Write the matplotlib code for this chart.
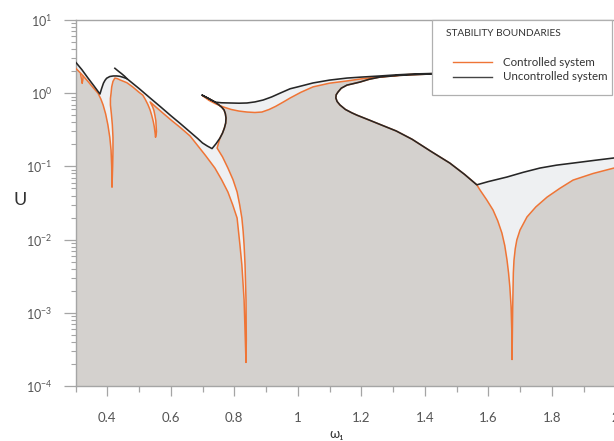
import numpy as np
import matplotlib
matplotlib.use("Agg")
import matplotlib.pyplot as plt
from matplotlib.ticker import MultipleLocator, FuncFormatter, LogLocator
from matplotlib.patches import Rectangle
from matplotlib.lines import Line2D

plt.rcParams['font.family'] = ['Lato', 'DejaVu Sans']
plt.rcParams['mathtext.fontset'] = 'custom'
plt.rcParams['mathtext.rm'] = 'Lato'

# ---- uncontrolled boundary (black) pieces ----
unc_left_w = [0.300, 0.320, 0.338, 0.358, 0.377, 0.382, 0.388, 0.393, 0.398, 0.408,
              0.419, 0.430, 0.440, 0.450, 0.462, 0.500, 0.535, 0.570, 0.601, 0.630,
              0.661, 0.685, 0.700, 0.715, 0.730, 0.743]
unc_left_u = [2.67, 2.10, 1.64, 1.26, 0.975, 1.15, 1.37, 1.50, 1.60, 1.69,
              1.72, 1.72, 1.70, 1.65, 1.58, 1.16, 0.86, 0.64, 0.49, 0.385,
              0.295, 0.240, 0.209, 0.190, 0.175, 0.205]
unc_spur_w = [0.698, 0.718, 0.740]
unc_spur_u = [0.945, 0.850, 0.755]
unc_top_w = [0.760, 0.787, 0.815, 0.840, 0.865, 0.891, 0.918, 0.944, 0.976, 1.000,
             1.048, 1.100, 1.155, 1.200, 1.259, 1.310, 1.363, 1.423, 1.470]
unc_top_u = [0.740, 0.735, 0.730, 0.735, 0.760, 0.807, 0.89, 1.00, 1.15, 1.22,
             1.38, 1.51, 1.61, 1.66, 1.72, 1.78, 1.83, 1.86, 1.88]
unc_right_w = [1.600, 1.659, 1.710, 1.763, 1.815, 1.867, 1.935, 2.000]
unc_right_u = [0.062, 0.0716, 0.083, 0.095, 0.104, 0.111, 0.121, 0.131]

# short extra fold of the uncontrolled boundary near 0.43
unc_fold_w = [0.424, 0.435, 0.445, 0.455, 0.462]
unc_fold_u = [2.19, 2.00, 1.85, 1.70, 1.58]

# ---- pieces shared by both boundaries ----
fold1_w = [0.755, 0.763, 0.769, 0.773, 0.774, 0.772, 0.768, 0.761, 0.752, 0.745,
           0.739, 0.718]
fold1_u = [0.244, 0.285, 0.335, 0.39, 0.458, 0.525, 0.589, 0.640, 0.690, 0.725,
           0.758, 0.852]
fold2_w = [1.455, 1.420, 1.380, 1.320, 1.259, 1.225, 1.196, 1.175, 1.155, 1.137,
           1.127, 1.121, 1.120, 1.124, 1.133, 1.150, 1.170, 1.187, 1.225, 1.262,
           1.310, 1.360, 1.420, 1.479, 1.525, 1.564]
fold2_u = [1.86, 1.83, 1.80, 1.75, 1.66, 1.55, 1.42, 1.35, 1.29, 1.17,
           1.04, 0.95, 0.86, 0.77, 0.69, 0.60, 0.54, 0.50, 0.43, 0.37,
           0.305, 0.235, 0.160, 0.111, 0.078, 0.056]

# ---- controlled boundary (orange) pieces ----
ctl_left_w = [0.300, 0.320, 0.338, 0.355, 0.371, 0.380, 0.387, 0.395, 0.402, 0.408,
              0.412, 0.414, 0.415, 0.417, 0.418, 0.418, 0.416, 0.413, 0.410, 0.410,
              0.412, 0.414, 0.418, 0.424, 0.432, 0.440, 0.462, 0.480, 0.500, 0.512,
              0.520, 0.528, 0.535, 0.540, 0.545, 0.548, 0.551, 0.552, 0.554, 0.555,
              0.554, 0.553, 0.550, 0.547, 0.543, 0.538, 0.535,
              0.570, 0.601, 0.630, 0.661, 0.676, 0.690, 0.710, 0.739, 0.760, 0.780,
              0.795, 0.809, 0.818, 0.824, 0.831, 0.835, 0.837,
              0.838, 0.837, 0.834, 0.831, 0.828, 0.824, 0.817, 0.809, 0.796, 0.780,
              0.763, 0.746]
ctl_left_u = [2.21, 1.80, 1.47, 1.20, 1.00, 0.83, 0.69, 0.52, 0.37, 0.25,
              0.167, 0.10, 0.052, 0.10, 0.167, 0.25, 0.37, 0.52, 0.69, 0.85,
              1.00, 1.22, 1.45, 1.61, 1.58, 1.52, 1.39, 1.22, 1.03, 0.94,
              0.82, 0.70, 0.59, 0.50, 0.41, 0.35, 0.28, 0.25, 0.27, 0.30,
              0.36, 0.42, 0.50, 0.58, 0.65, 0.72, 0.76,
              0.56, 0.43, 0.34, 0.26, 0.215, 0.18, 0.14, 0.095, 0.066, 0.0447,
              0.030, 0.0197, 0.0084, 0.0045, 0.0015, 0.00043, 0.00021,
              0.00043, 0.0015, 0.0045, 0.0084, 0.013, 0.0197, 0.030, 0.0447, 0.066, 0.095,
              0.135, 0.178]
ctl_top_w = [0.700, 0.720, 0.740, 0.765, 0.790, 0.815, 0.840, 0.865, 0.887, 0.910,
             0.930, 0.955, 0.976, 1.010, 1.048, 1.100, 1.155, 1.200, 1.237, 1.270,
             1.300, 1.363, 1.423, 1.470]
ctl_top_u = [0.925, 0.80, 0.72, 0.65, 0.60, 0.57, 0.553, 0.545, 0.553, 0.60,
             0.66, 0.76, 0.86, 1.03, 1.22, 1.37, 1.47, 1.57, 1.64, 1.69,
             1.73, 1.82, 1.85, 1.87]
ctl_right_w = [1.574, 1.595, 1.615, 1.630, 1.643, 1.652, 1.659, 1.664, 1.668, 1.672,
               1.674, 1.675, 1.676, 1.677, 1.678, 1.679, 1.681, 1.685, 1.690, 1.700,
               1.722, 1.750, 1.785, 1.825, 1.867, 1.930, 2.000]
ctl_right_u = [0.0476, 0.035, 0.0254, 0.018, 0.0123, 0.0083, 0.0053, 0.0035, 0.00226, 0.0012,
               0.0006, 0.00023, 0.0006, 0.0012, 0.00226, 0.0035, 0.0052, 0.0075, 0.0099, 0.0135,
               0.0204, 0.028, 0.038, 0.050, 0.065, 0.080, 0.096]

# tiny side branch of the controlled boundary near 0.32
ctl_br_w = [0.316, 0.319, 0.321, 0.323, 0.324]
ctl_br_u = [1.80, 1.55, 1.36, 1.50, 1.70]

unc_w = unc_left_w + fold1_w + unc_spur_w + unc_top_w + fold2_w + unc_right_w
unc_u = unc_left_u + fold1_u + unc_spur_u + unc_top_u + fold2_u + unc_right_u
ctl_w = ctl_left_w + fold1_w + ctl_top_w + fold2_w + ctl_right_w
ctl_u = ctl_left_u + fold1_u + ctl_top_u + fold2_u + ctl_right_u

x_min, x_max = 0.3, 2.0
y_min, y_max = 1e-4, 1e1
y_floor = 1e-6

gray_fill = '#d4d1ce'
light_fill = '#eef0f2'
orange = '#ef7536'
black = '#262626'
txt = '#555555'
axis_col = '#a5a5a5'

fig = plt.figure(figsize=(6.14, 4.41), dpi=100)
ax = fig.add_axes([75.5 / 614, 1 - 386 / 441, 539.75 / 614, 366 / 441])

ax.fill(unc_w + [x_max, x_min], unc_u + [y_floor, y_floor], color=light_fill, lw=0, zorder=1)
ax.fill(ctl_w + [x_max, x_min], ctl_u + [y_floor, y_floor], color=gray_fill, lw=0, zorder=2)

ax.plot(ctl_w, ctl_u, color=orange, lw=1.1, zorder=3)
ax.plot(ctl_br_w, ctl_br_u, color=orange, lw=1.0, zorder=3)
ax.plot(unc_w, unc_u, color=black, lw=1.15, zorder=4)
ax.plot(unc_fold_w, unc_fold_u, color=black, lw=1.15, zorder=4)

ax.set_yscale('log')
ax.set_xlim(x_min, x_max)
ax.set_ylim(y_min, y_max)

ax.xaxis.set_major_locator(MultipleLocator(0.2))
ax.xaxis.set_minor_locator(MultipleLocator(0.1))
ax.xaxis.set_major_formatter(FuncFormatter(lambda v, p: '%g' % round(v, 2)))
ax.yaxis.set_major_locator(LogLocator(base=10, numticks=10))
ax.yaxis.set_minor_locator(LogLocator(base=10, subs=np.arange(2, 10), numticks=10))

ax.tick_params(axis='x', which='major', direction='out', length=7, width=0.9,
               color=axis_col, labelcolor=txt, labelsize=9.5, pad=12)
ax.tick_params(axis='x', which='minor', direction='out', length=4, width=0.9, color=axis_col)
ax.tick_params(axis='y', which='major', direction='out', length=8.5, width=0.9,
               color=axis_col, labelcolor=txt, labelsize=9, pad=8)
ax.tick_params(axis='y', which='minor', direction='out', length=3.5, width=0.8, color=axis_col)

for side in ['left', 'bottom', 'top']:
    ax.spines[side].set_color(axis_col)
    ax.spines[side].set_linewidth(1.0)
ax.spines['right'].set_visible(False)

ax.set_ylabel('U', rotation=0, fontsize=13, color='#333333', va='center', ha='center')
ax.yaxis.set_label_coords(-0.103, 0.508)
fig.text(337 / 614, 1 - 434 / 441, 'ω₁', fontsize=9.5, color='#333333',
         ha='center', va='center')

# legend box
lx0 = (432 - 75.5) / 539.75
lx1 = (612 - 75.5) / 539.75
ly0 = (386 - 95) / 366
ax.add_patch(Rectangle((lx0, ly0), lx1 - lx0, 1.0 - ly0, transform=ax.transAxes,
                       facecolor='white', edgecolor='#b0b0b0', lw=0.9, zorder=10,
                       clip_on=False))
ax.text((446 - 75.5) / 539.75, (386 - 33) / 366, 'STABILITY BOUNDARIES',
        transform=ax.transAxes, fontsize=7.3, color='#333333', va='center', zorder=11)
hx0 = (453 - 75.5) / 539.75
hx1 = (492 - 75.5) / 539.75
tx = (503 - 75.5) / 539.75
for py, col, lab in [(62, orange, 'Controlled system'), (77, '#444444', 'Uncontrolled system')]:
    yy = (386 - py) / 366
    ax.add_line(Line2D([hx0, hx1], [yy, yy], transform=ax.transAxes, color=col,
                       lw=1.0, zorder=11, clip_on=False))
    ax.text(tx, yy, lab, transform=ax.transAxes, fontsize=8.3, color='#333333',
            va='center', zorder=11)

fig.savefig('out.png', dpi=100)
